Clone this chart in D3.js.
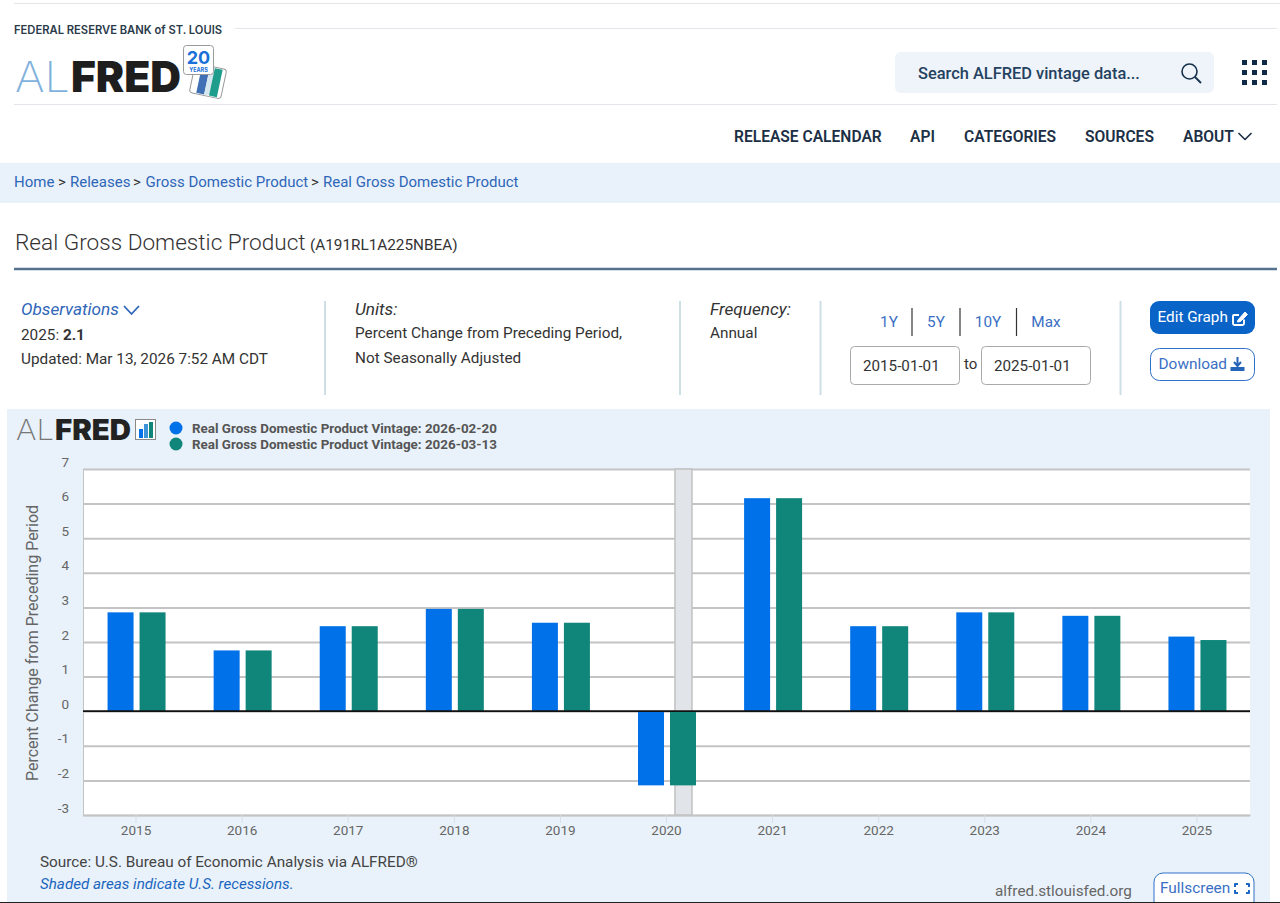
<!DOCTYPE html>
<html><head><meta charset="utf-8">
<script src="https://cdn.jsdelivr.net/npm/d3@7/dist/d3.min.js"></script>
<style>
html,body{margin:0;padding:0;background:#fff;overflow:hidden}
svg{display:block}
text{font-family:Roboto,sans-serif}
</style></head><body>
<svg id="c" width="1280" height="903" viewBox="0 0 1280 903"></svg>
<script>
const years=["2015","2016","2017","2018","2019","2020","2021","2022","2023","2024","2025"];
const vintageFeb=[2.9,1.8,2.5,3.0,2.6,-2.1,6.2,2.5,2.9,2.8,2.2];
const vintageMar=[2.9,1.8,2.5,3.0,2.6,-2.1,6.2,2.5,2.9,2.8,2.1];
const seriesNames=["Real Gross Domestic Product Vintage: 2026-02-20","Real Gross Domestic Product Vintage: 2026-03-13"];
const seriesColors=["#0071e8","#10857a"];
const yTicks=[7,6,5,4,3,2,1,0,-1,-2,-3];
const recessionRange=[2020.08,2020.24];
const navItems=[["RELEASE CALENDAR",734],["API",910],["CATEGORIES",964],["SOURCES",1085],["ABOUT",1183]];
const crumbs=[["Home",14,1],[">",58,0],["Releases",70,1],[">",133,0],["Gross Domestic Product",145.5,1],[">",311,0],["Real Gross Domestic Product",323,1]];

const svg=d3.select("#c");
const T=(x,y,s,o={})=>{const t=svg.append("text").attr("x",x).attr("y",y).text(s)
 .attr("font-size",o.size||14).attr("fill",o.fill||"#333").attr("font-weight",o.weight||400);
 if(o.anchor)t.attr("text-anchor",o.anchor); if(o.italic)t.attr("font-style","italic");
 if(o.family)t.style("font-family",o.family); if(o.ls)t.attr("letter-spacing",o.ls);
 if(o.len)t.attr("textLength",o.len).attr("lengthAdjust","spacingAndGlyphs"); return t;};
const R=(x,y,w,h,f,o={})=>svg.append("rect").attr("x",x).attr("y",y).attr("width",w).attr("height",h)
 .attr("fill",f).attr("stroke",o.stroke||"none").attr("stroke-width",o.sw||1).attr("rx",o.rx||0);
const L=(x1,y1,x2,y2,c,w=1)=>svg.append("line").attr("x1",x1).attr("y1",y1).attr("x2",x2).attr("y2",y2).attr("stroke",c).attr("stroke-width",w);
const P=(d,o={})=>svg.append("path").attr("d",d).attr("fill",o.fill||"none").attr("stroke",o.stroke||"none").attr("stroke-width",o.sw||1).attr("stroke-linecap",o.cap||"butt").attr("stroke-linejoin","round");

// header
L(14,3.5,1280,3.5,"#e6e6e6");
T(14,34,"FEDERAL RESERVE BANK of ST. LOUIS",{size:11.2,weight:600,fill:"#2a3a4a",family:"Inter"});
L(235,28.5,1277,28.5,"#e3e6ea");
L(14,104.5,1277,104.5,"#e3e6ea");
T(15,92,"AL",{size:42,weight:200,fill:"#7fb1dd",family:"Inter",len:55});
T(71,92,"FRED",{size:42,weight:900,fill:"#1e1e1e",family:"Inter",len:110});
// 20 years badge
svg.append("g").attr("transform","translate(208,81) rotate(12)").call(g=>{
 g.append("rect").attr("x",-16).attr("y",-15).attr("width",32).attr("height",30).attr("rx",3).attr("fill","#fff").attr("stroke","#9a9a9a");
 g.append("rect").attr("x",-9).attr("y",-14).attr("width",8).attr("height",28).attr("fill","#3f6fb5");
 g.append("rect").attr("x",-1).attr("y",-14).attr("width",5).attr("height",28).attr("fill","#d5e6ee");
 g.append("rect").attr("x",4).attr("y",-14).attr("width",8).attr("height",28).attr("fill","#1e9c8c");
});
R(183.5,45.5,30,29,"#fff",{stroke:"#9a9a9a",rx:3});
T(198.5,64,"20",{size:18,weight:700,fill:"#1a6fd8",anchor:"middle",family:"Inter"});
T(198.5,72,"YEARS",{size:5.5,weight:700,fill:"#1a6fd8",anchor:"middle",family:"Inter"});

// search
R(895,52,319,41,"#eef4fa",{rx:6});
T(918,78.5,"Search ALFRED vintage data...",{size:16.4,weight:500,fill:"#24425f"});
svg.append("circle").attr("cx",1189.5).attr("cy",71.5).attr("r",7.5).attr("fill","none").attr("stroke","#15304a").attr("stroke-width",1.6);
L(1195,77,1201,83,"#15304a",1.8);
const gridN=[0,1,2];
gridN.forEach(a=>gridN.forEach(b=>R(1242+b*10,60+a*10,5,5,"#0e2a47")));

// nav
navItems.forEach(d=>T(d[1],141.5,d[0],{size:15.6,weight:600,fill:"#1c2f45"}));
P("M1238.5 133 L1245 139.5 L1251.5 133",{stroke:"#1c2f45",sw:1.6});

// breadcrumb
R(0,163,1280,40,"#e9f2fa");
crumbs.forEach(d=>T(d[1],187,d[0],{size:15,fill:d[2]?"#2f66b8":"#333"}));

// title
T(15,250,"Real Gross Domestic Product",{size:22.6,weight:300,fill:"#333"});
T(310,250,"(A191RL1A225NBEA)",{size:15.3,fill:"#333"});
L(14,269,1277,269,"#55738f",2.4);

// info
T(21,315,"Observations",{size:17.2,italic:true,fill:"#2f66b8"});
P("M124 306 L131.5 314 L139 306",{stroke:"#2f66b8",sw:1.8});
const o2=T(21,340,"2025: ",{size:15.3,fill:"#333"});o2.append("tspan").attr("font-weight",700).text("2.1");
T(21,364,"Updated: Mar 13, 2026 7:52 AM CDT",{size:15.3,fill:"#333"});
[325,680,820.5,1120.5].forEach(x=>L(x,301,x,395,"#cfdfe6",2));
T(355,315,"Units:",{size:17.2,italic:true,fill:"#333"});
T(355,338,"Percent Change from Preceding Period,",{size:15.3,fill:"#333"});
T(355,363,"Not Seasonally Adjusted",{size:15.3,fill:"#333"});
T(710,315,"Frequency:",{size:17.2,italic:true,fill:"#333"});
T(710,338,"Annual",{size:15.3,fill:"#333"});
[["1Y",889],["5Y",936],["10Y",988],["Max",1046]].forEach(d=>T(d[1],327,d[0],{size:15.3,fill:"#3a6fc4",anchor:"middle"}));
[912,960,1016.5].forEach(x=>L(x,308,x,336,"#333",1.2));
R(850.5,346.5,109,38,"#fff",{stroke:"#aaa",rx:4});
R(981.5,346.5,109,38,"#fff",{stroke:"#aaa",rx:4});
T(863,371,"2015-01-01",{size:15.2,fill:"#333"});
T(994,371,"2025-01-01",{size:15.2,fill:"#333"});
T(964,369,"to",{size:15,fill:"#333"});
R(1150,301,105,33,"#0a64c8",{rx:9});
T(1157.5,322,"Edit Graph",{size:15.3,fill:"#fff"});
P("M1239 315 h-5 a1 1 0 0 0 -1 1 v7.5 a1.5 1.5 0 0 0 1.5 1.5 h8 a1.5 1.5 0 0 0 1.5 -1.5 v-4",{stroke:"#fff",sw:1.9});
P("M1238 320 l7 -8 l2.5 2.5 l-7 7 l-3 .5 z",{fill:"#fff",stroke:"#fff"});
R(1150.5,348.5,104,32,"#fff",{stroke:"#2f70c8",rx:9});
T(1158.5,369,"Download",{size:15.4,fill:"#3a6fc4"});
P("M1237.5 357 v8 M1234 362 l3.5 4 l3.5 -4",{stroke:"#2565b8",sw:2});
P("M1230.5 367 h14 v4 h-14 z",{fill:"#2565b8"});

// chart panel
R(7,409,1263,494,"#e9f2fa");
T(16,440,"AL",{size:28,weight:200,fill:"#777",family:"Inter",len:38});
T(55,440,"FRED",{size:28,weight:900,fill:"#222",family:"Inter",len:76});
R(135.5,419.5,20,20,"#fff",{stroke:"#888"});
R(139,429,4,9,seriesColors[0]);R(144,424,4,14,"#3c93d8");R(149,422,4,16,seriesColors[1]);
seriesNames.forEach((s,i)=>{
 svg.append("circle").attr("cx",176).attr("cy",428+i*16).attr("r",6.5).attr("fill",seriesColors[i]);
 T(192,433+i*16,s,{size:13.4,weight:700,fill:"#555"});
});

const plot={l:83,r:1250,t:469,b:815};
const y=d3.scaleLinear().domain([-3,7]).range([plot.b,plot.t]);
const x=d3.scaleBand().domain(years).range([plot.l,plot.r]);
const xt=d3.scaleLinear().domain([+years[0],+years[10]]).range([x(years[0])+x.bandwidth()/2,x(years[10])+x.bandwidth()/2]);
R(plot.l,plot.t,plot.r-plot.l,plot.b-plot.t,"#fff");

const grid=svg.append("g").attr("transform",`translate(${plot.l},0)`)
 .call(d3.axisLeft(y).tickValues(yTicks).tickSize(-(plot.r-plot.l)).tickFormat(d=>d));
grid.select(".domain").remove();
grid.selectAll("line").attr("stroke","#c4c4c4").attr("stroke-width",2).attr("x2",plot.r-plot.l);
grid.selectAll("text").attr("x",-14).attr("dy",-3).attr("text-anchor","end").attr("font-size",13.5).attr("fill","#666").style("font-family","Roboto");
L(plot.l+.5,plot.t,plot.l+.5,plot.b,"#c4c4c4",1);

// recession
svg.append("rect").attr("x",xt(recessionRange[0])).attr("y",plot.t).attr("width",xt(recessionRange[1])-xt(recessionRange[0])).attr("height",plot.b-plot.t)
 .attr("fill","#e1e5e9").attr("stroke","#c4c4c4").attr("stroke-width",1.6);

// bars
const barW=26, gap=6, nudge=1.5;
[vintageFeb,vintageMar].forEach((vals,s)=>{
 svg.append("g").attr("transform","translate(0.5,0)").selectAll("rect").data(vals).join("rect")
  .attr("x",(d,i)=>x(years[i])+x.bandwidth()/2+(s?gap/2:-gap/2-barW))
  .attr("width",barW)
  .attr("y",d=>d>0?y(d)+nudge:y(0))
  .attr("height",d=>d>0?y(0)-y(d)-nudge:y(d)+nudge-y(0))
  .attr("fill",seriesColors[s]);
});
L(plot.l,y(0),plot.r,y(0),"#111",1.8);

// x axis
const xa=svg.append("g").attr("transform",`translate(0,${plot.b})`).call(d3.axisBottom(x).tickSize(8).tickSizeOuter(0));
xa.select(".domain").attr("stroke","#c4c4c4").attr("stroke-width",1.6);
xa.selectAll("line").attr("stroke","#d8dde2");
xa.selectAll("text").attr("font-size",13.5).attr("fill","#666").style("font-family","Roboto").attr("y",11).attr("dy","0.7em");

T(0,0,"Percent Change from Preceding Period",{size:16,fill:"#666",anchor:"middle"}).attr("transform","translate(37.5,643) rotate(-90)");

T(40,867,"Source: U.S. Bureau of Economic Analysis via ALFRED®",{size:15.3,fill:"#444"});
T(40,889,"Shaded areas indicate U.S. recessions.",{size:15.2,italic:true,fill:"#1a66c0"});
T(995,896,"alfred.stlouisfed.org",{size:15.3,fill:"#666"});
R(1154,873,100,40,"#fff",{stroke:"#2f70c8",rx:9});
T(1160,893,"Fullscreen",{size:15.4,fill:"#3a6fc4"});
P("M1235 887 v-3 h3 M1246 884 h3 v3 M1249 890 v3 h-3 M1238 893 h-3 v-3",{stroke:"#1a66c0",sw:2});
L(0,902.5,1280,902.5,"#222",1.2);
</script>
</body></html>
